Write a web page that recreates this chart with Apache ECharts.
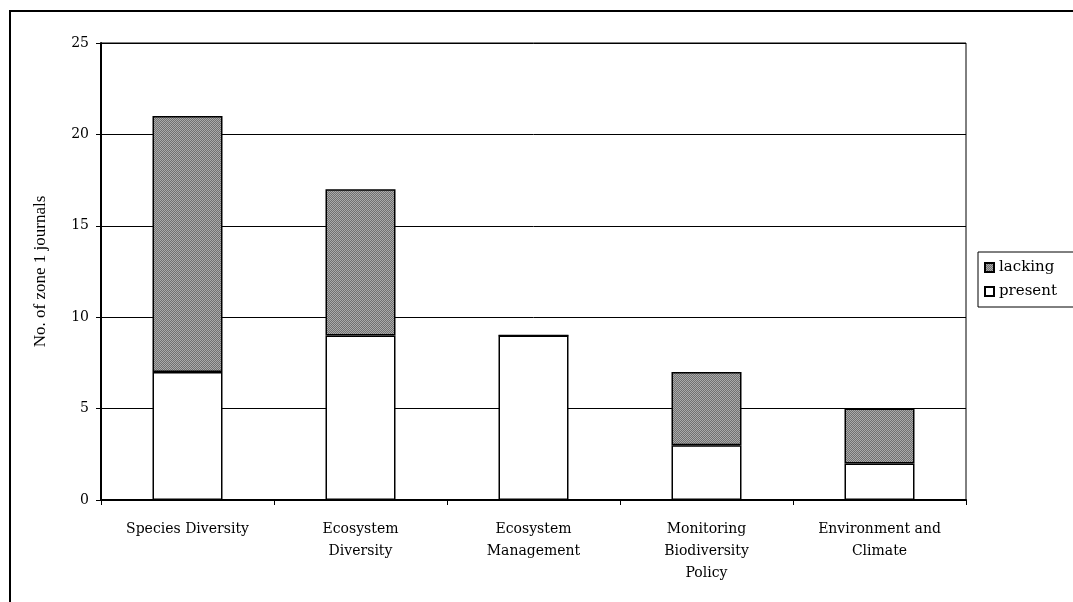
<!DOCTYPE html>
<html><head><meta charset="utf-8">
<script src="https://cdn.jsdelivr.net/npm/echarts@6/dist/echarts.min.js"></script>
<style>html,body{margin:0;padding:0;background:#fff}#c{width:1073px;height:602px}</style>
</head><body><div id="c"></div>
<script>
const categories = ["Species Diversity", "Ecosystem\nDiversity", "Ecosystem\nManagement", "Monitoring\nBiodiversity\nPolicy", "Environment and\nClimate"];
const presentValues = [7, 9, 9, 3, 2];
const lackingValues = [14, 8, 0, 4, 3];
const yTicks = [0, 5, 10, 15, 20, 25];

// checker pattern for "lacking"
const pc = document.createElement('canvas');
pc.width = 2; pc.height = 2;
const pctx = pc.getContext('2d');
pctx.fillStyle = '#707070'; pctx.fillRect(0,0,2,2);
pctx.fillStyle = '#aaaaaa'; pctx.fillRect(0,0,1,1); pctx.fillRect(1,1,1,1);

const serif = '"DejaVu Serif", "Liberation Serif", serif';
const chart = echarts.init(document.getElementById('c'), null, {renderer:'canvas'});
chart.setOption({
  animation:false,
  backgroundColor:'#fff',
  graphic:[{type:'rect', shape:{x:10,y:11,width:1080,height:610}, style:{fill:'none', stroke:'#000', lineWidth:2}, z:-1}],
  grid:{left:101, right:107, top:43, bottom:102, show:true, borderColor:'#000', borderWidth:1},
  legend:{
    orient:'vertical', left:978, top:252, itemWidth:9, itemHeight:9, itemGap:9, icon:'rect',
    borderColor:'#000', borderWidth:1, padding:[8,20,8,6],
    textStyle:{fontFamily:serif, fontSize:15, color:'#000'},
    data:['lacking','present']
  },
  xAxis:{
    type:'category', data:categories,
    axisLine:{lineStyle:{color:'#000', width:2}},
    axisTick:{show:true, length:5, lineStyle:{color:'#000'}},
    axisLabel:{fontFamily:serif, fontSize:14, color:'#000', margin:18, lineHeight:22, interval:0}
  },
  yAxis:{
    type:'value', min:0, max:25, interval:5,
    name:'No. of zone 1 journals', nameLocation:'middle', nameGap:52, nameRotate:90,
    nameTextStyle:{fontFamily:'"Liberation Serif", serif', fontSize:17, color:'#000'},
    axisLine:{show:true, lineStyle:{color:'#000', width:2}},
    axisTick:{show:true, length:5, lineStyle:{color:'#000'}},
    axisLabel:{fontFamily:serif, fontSize:14, color:'#000', margin:12},
    splitLine:{lineStyle:{color:'#000', width:1}}
  },
  series:[
    {name:'present', type:'bar', stack:'s', data:presentValues, barWidth:70,
     itemStyle:{color:'#fff', borderColor:'#000', borderWidth:1.5}},
    {name:'lacking', type:'bar', stack:'s', data:lackingValues, barWidth:70,
     itemStyle:{color:{image:pc, repeat:'repeat'}, borderColor:'#000', borderWidth:1.5}}
  ]
});
</script></body></html>
